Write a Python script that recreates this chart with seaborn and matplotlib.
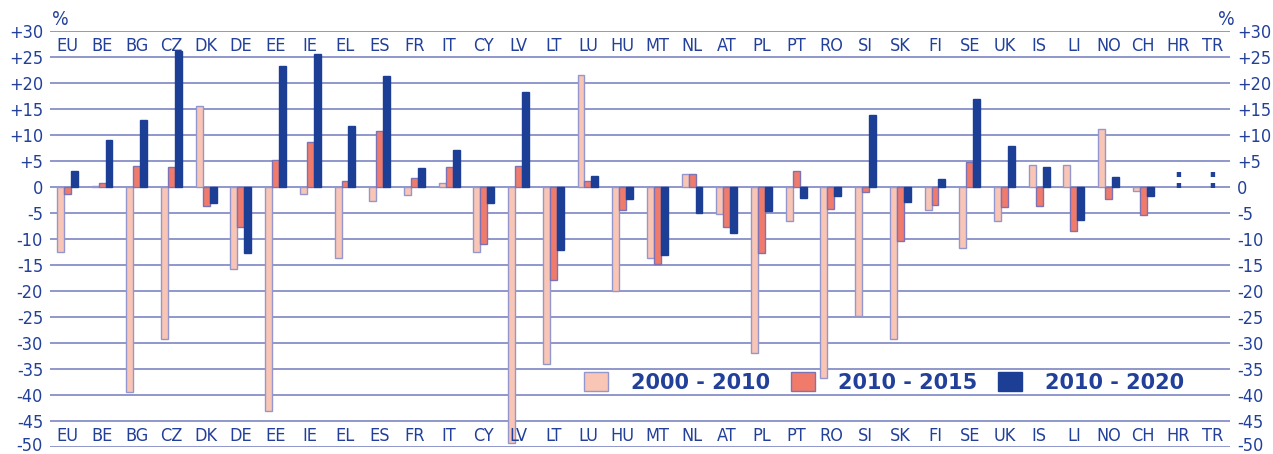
import matplotlib
matplotlib.use("Agg")
import matplotlib.pyplot as plt
import seaborn as sns
import pandas as pd
import numpy as np
from matplotlib.patches import Rectangle

countries = ["EU", "BE", "BG", "CZ", "DK", "DE", "EE", "IE", "EL", "ES", "FR", "IT",
             "CY", "LV", "LT", "LU", "HU", "MT", "NL", "AT", "PL", "PT", "RO", "SI",
             "SK", "FI", "SE", "UK", "IS", "LI", "NO", "CH", "HR", "TR"]
nan = np.nan
v_2000_2010 = [-12.5, 0.1, -39.5, -29.3, 15.6, -15.7, -43.0, -1.4, -13.6, -2.7, -1.6, 0.8,
               -12.5, -49.3, -34.0, 21.6, -20.0, -13.6, 2.5, -5.1, -31.9, -6.5, -36.8, -24.9,
               -29.3, -4.4, -11.8, -6.6, 4.3, 4.3, 11.2, -0.7, nan, nan]
v_2010_2015 = [-1.3, 0.85, 4.1, 3.8, -3.7, -7.6, 5.2, 8.7, 1.2, 10.8, 1.7, 3.9,
               -11.0, 4.0, -17.9, 1.2, -4.4, -14.9, 2.5, -7.6, -12.6, 3.0, -4.2, -1.0,
               -10.3, -3.4, 4.9, -3.8, -3.6, -8.5, -2.4, -5.3, nan, nan]
v_2010_2020 = [3.0, 9.0, 12.8, 26.2, -3.1, -12.7, 23.2, 25.5, 11.7, 21.3, 3.7, 7.2,
               -3.0, 18.3, -12.2, 2.2, -2.4, -13.1, -5.0, -8.8, -4.7, -2.2, -1.8, 13.9,
               -2.8, 1.5, 16.9, 7.8, 3.8, -6.4, 1.9, -1.8, nan, nan]
periods = ["2000 - 2010", "2010 - 2015", "2010 - 2020"]
not_available = ["HR", "TR"]
y_ticks = list(range(-50, 31, 5))
y_tick_labels = [f"+{v}" if v > 0 else str(v) for v in y_ticks]

colors = ["#F9C6B5", "#F07B6B", "#1C3F95"]
edges = ["#9496CE", "#7C72B5", "#1C3F95"]
text_blue = "#22409A"
grid_blue = "#8E97CC"

df = pd.DataFrame({
    "country": countries * 3,
    "period": [periods[0]] * len(countries) + [periods[1]] * len(countries) + [periods[2]] * len(countries),
    "value": v_2000_2010 + v_2010_2015 + v_2010_2020,
})

sns.set_theme(style="white")
plt.rcParams["font.family"] = ["DejaVu Sans"]
plt.rcParams["font.stretch"] = "condensed"

fig = plt.figure(figsize=(12.73, 4.54), dpi=100)
ax = fig.add_axes([50 / 1273, 1 - 447 / 454, 1180 / 1273, (447 - 31) / 454])

sns.barplot(data=df, x="country", y="value", hue="period", order=countries,
            hue_order=periods, palette=colors, saturation=1, width=0.6, edgecolor="none",
            linewidth=1.0, errorbar=None, ax=ax, legend=False, zorder=3)
for cont, ec in zip(ax.containers, edges):
    for bar in cont:
        bar.set_edgecolor(ec)
        bar.set_linewidth(1.0)

ax.set_ylim(-50, 30)
ax.set_xlim(-0.5, len(countries) - 0.5)
ax.set_yticks(y_ticks)
ax.set_yticklabels([])
ax.tick_params(axis="y", length=0)
ax.set_xticks([])
ax.set_xlabel("")
ax.set_ylabel("")
for s in ax.spines.values():
    s.set_visible(False)
for v in y_ticks:
    ax.axhline(v, color=grid_blue, lw=1.4, zorder=1)

ytr = ax.get_yaxis_transform()
for v, lab in zip(y_ticks, y_tick_labels):
    yy = v + 0.5 if v == -50 else v
    ax.annotate(lab, xy=(0, yy), xycoords=ytr, xytext=(-5, 0), textcoords="offset points",
                ha="right", va="center_baseline", fontsize=13, color=text_blue)
    ax.annotate(lab, xy=(1, yy), xycoords=ytr, xytext=(5, 0), textcoords="offset points",
                ha="left", va="center_baseline", fontsize=13, color=text_blue)

for i, c in enumerate(countries):
    ax.text(i, 27.5, c, ha="center", va="center_baseline", fontsize=13, color=text_blue)
    ax.text(i, -47.5, c, ha="center", va="center_baseline", fontsize=13, color=text_blue)
for c in not_available:
    i = countries.index(c)
    ax.text(i, 2.0, ":", ha="center", va="center_baseline", fontsize=20, fontweight="bold",
            color=text_blue)

ax.text(-0.2, 30.4, "%", ha="center", va="bottom", fontsize=14, color=text_blue)
ax.text(len(countries) - 0.6, 30.4, "%", ha="center", va="bottom", fontsize=14, color=text_blue)

handles = [Rectangle((0, 0), 1, 1, facecolor=col, edgecolor=ec, lw=1.0) for col, ec in zip(colors, edges)]
leg = ax.legend(handles, periods, loc="center", bbox_to_anchor=((884 - 50) / 1180, (-37.6 + 50) / 80),
                ncol=3, frameon=False, handlelength=1.15, handleheight=1.0,
                handletextpad=1.1, columnspacing=1.0,
                prop={"family": "DejaVu Sans", "stretch": "normal", "weight": "bold", "size": 15})
for t in leg.get_texts():
    t.set_color(text_blue)

fig.savefig("out.png", dpi=100)
